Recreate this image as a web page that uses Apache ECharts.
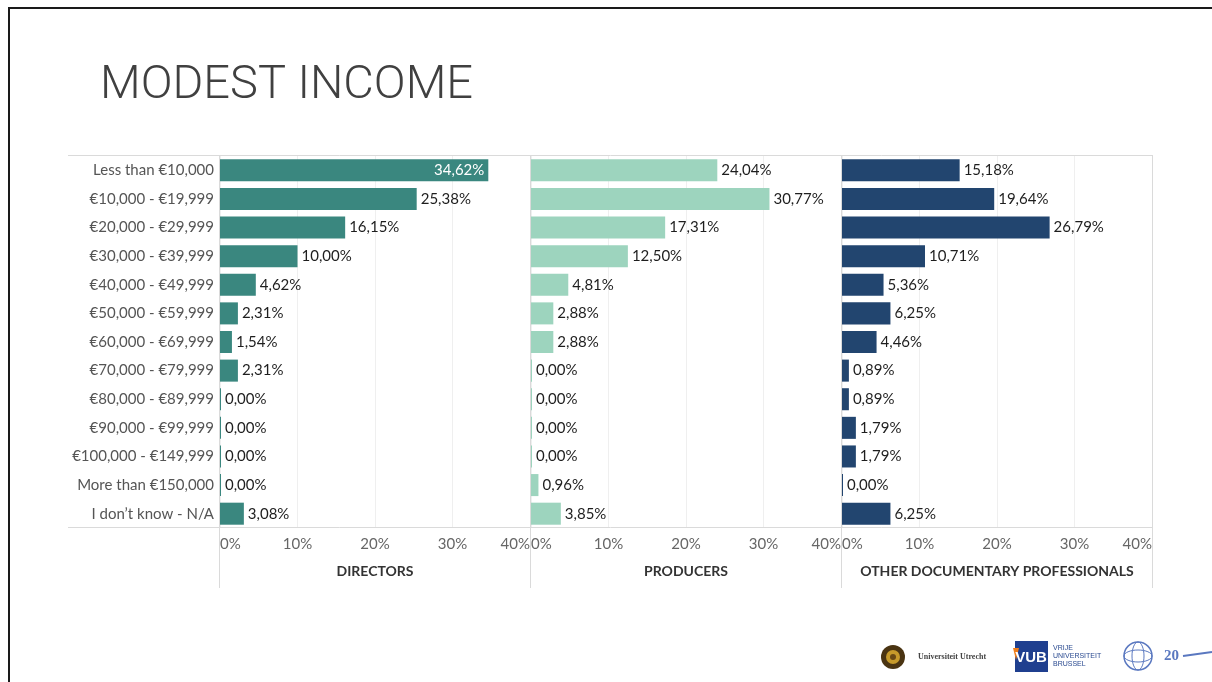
<!DOCTYPE html>
<html>
<head>
<meta charset="utf-8">
<title>Modest income</title>
<script src="https://cdn.jsdelivr.net/npm/echarts@6/dist/echarts.min.js"></script>
<style>
  html, body { margin: 0; padding: 0; background: #ffffff; }
  #chart { width: 1212px; height: 682px; }
</style>
</head>
<body>
<div id="chart"></div>
<script>
// Income brackets (rows, top to bottom)
const categories = [
  'Less than €10,000', '€10,000 - €19,999', '€20,000 - €29,999', '€30,000 - €39,999',
  '€40,000 - €49,999', '€50,000 - €59,999', '€60,000 - €69,999', '€70,000 - €79,999',
  '€80,000 - €89,999', '€90,000 - €99,999', '€100,000 - €149,999', 'More than €150,000',
  'I don’t know - N/A'
];

// Share of respondents per bracket (%)
const directors = [34.62, 25.38, 16.15, 10.00, 4.62, 2.31, 1.54, 2.31, 0.00, 0.00, 0.00, 0.00, 3.08];
const producers = [24.04, 30.77, 17.31, 12.50, 4.81, 2.88, 2.88, 0.00, 0.00, 0.00, 0.00, 0.96, 3.85];
const others    = [15.18, 19.64, 26.79, 10.71, 5.36, 6.25, 4.46, 0.89, 0.89, 1.79, 1.79, 0.00, 6.25];

const groupNames = ['DIRECTORS', 'PRODUCERS', 'OTHER DOCUMENTARY PROFESSIONALS'];
const groupColors = ['#3a877f', '#9dd4be', '#22456f'];
const groupValues = [directors, producers, others];

// Value axis ticks
const axisMin = 0;
const axisMax = 40;
const axisStep = 10;

// Panel layout
const panelLeft = [220, 531, 842];
const panelWidth = 311;
const plotTop = 156;
const plotHeight = 372;
const plotBottom = plotTop + plotHeight;
const frameBottom = 588;
const rowLabelLeft = 68;

const FONT = 'Lato, "Open Sans", sans-serif';
const fmt = v => v.toFixed(2).replace('.', ',') + '%';

const grids = [], xAxes = [], yAxes = [], series = [];

groupNames.forEach((name, i) => {
  grids.push({ left: panelLeft[i], top: plotTop, width: panelWidth - 1, height: plotHeight });
  xAxes.push({
    gridIndex: i, type: 'value', min: axisMin, max: axisMax, interval: axisStep,
    position: 'bottom',
    name: name, nameLocation: 'middle', nameGap: 36,
    nameTextStyle: { color: '#333', fontSize: 14, fontWeight: 'bold', fontFamily: FONT },
    axisLine: { show: false }, axisTick: { show: false },
    axisLabel: {
      formatter: '{value}%', color: '#666', fontSize: 15, fontFamily: FONT, margin: 9,
      alignMinLabel: 'left', alignMaxLabel: 'right'
    },
    splitLine: { show: true, lineStyle: { color: '#efefef', width: 1 } }
  });
  yAxes.push({
    gridIndex: i, type: 'category', data: categories, inverse: true,
    axisLine: { show: false }, axisTick: { show: false },
    axisLabel: {
      show: i === 0, color: '#555', fontSize: 15, fontFamily: FONT, margin: 6
    },
    splitLine: { show: false }
  });
  series.push({
    type: 'bar', xAxisIndex: i, yAxisIndex: i,
    barCategoryGap: '23%', barMinHeight: 1,
    itemStyle: { color: groupColors[i] },
    label: {
      show: true, position: 'right', distance: 4,
      color: '#1e1e1e', fontSize: 15, fontFamily: FONT,
      formatter: p => fmt(p.value)
    },
    // labels that would run past the panel edge go inside the bar
    data: groupValues[i].map(v => v / axisMax > 0.8
      ? { value: v, label: { position: 'insideRight', color: '#fff', distance: 4 } }
      : v)
  });
});

// Frame lines around the panels
const frame = [];
[plotTop, plotBottom].forEach(y => frame.push({
  type: 'line', z: 10,
  shape: { x1: rowLabelLeft, y1: y - 0.5, x2: panelLeft[2] + panelWidth, y2: y - 0.5 },
  style: { stroke: '#dadada', lineWidth: 1 }
}));
panelLeft.concat([panelLeft[2] + panelWidth]).forEach(x => frame.push({
  type: 'line', z: 10,
  shape: { x1: x - 0.5, y1: plotTop, x2: x - 0.5, y2: frameBottom },
  style: { stroke: '#dadada', lineWidth: 1 }
}));

// Slide border and title
const slide = [
  { type: 'polyline', z: 20,
    shape: { points: [[9, 682], [9, 8], [1212, 8]] },
    style: { stroke: '#1a1a1a', lineWidth: 2, fill: null } },
  { type: 'text', x: 100, y: 86,
    style: { text: 'MODEST INCOME', fill: '#404040', fontSize: 47, fontWeight: 300,
             textVerticalAlign: 'middle',
             fontFamily: 'Roboto, "Liberation Sans", sans-serif' } }
];

// Partner logos, bottom right
const logos = [
  { type: 'circle', shape: { cx: 893, cy: 657, r: 12 }, style: { fill: '#4a3412' } },
  { type: 'circle', shape: { cx: 893, cy: 657, r: 7 }, style: { fill: '#c79a2a' } },
  { type: 'circle', shape: { cx: 893, cy: 657, r: 3 }, style: { fill: '#6b4a14' } },
  { type: 'text', x: 918, y: 657,
    style: { text: 'Universiteit Utrecht', fill: '#444', fontSize: 8, fontFamily: '"Liberation Serif", serif',
             fontWeight: 'bold', textVerticalAlign: 'middle' } },
  { type: 'rect', shape: { x: 1015, y: 641, width: 33, height: 31 }, style: { fill: '#1f3f8f' } },
  { type: 'polygon', shape: { points: [[1013, 648], [1019, 648], [1016, 660]] }, style: { fill: '#f07d1a' } },
  { type: 'text', x: 1031, y: 658,
    style: { text: 'VUB', fill: '#fff', fontSize: 15, fontWeight: 'bold', fontFamily: '"Liberation Sans", sans-serif',
             textAlign: 'center', textVerticalAlign: 'middle' } },
  { type: 'text', x: 1053, y: 656,
    style: { text: 'VRIJE\nUNIVERSITEIT\nBRUSSEL', fill: '#2a4a90', fontSize: 7, lineHeight: 8,
             fontFamily: '"Liberation Sans", sans-serif', textVerticalAlign: 'middle' } },
  { type: 'circle', shape: { cx: 1138, cy: 656, r: 14 }, style: { fill: 'none', stroke: '#5a78c0', lineWidth: 1.5 } },
  { type: 'ellipse', shape: { cx: 1138, cy: 656, rx: 14, ry: 6 }, style: { fill: 'none', stroke: '#5a78c0', lineWidth: 1 } },
  { type: 'ellipse', shape: { cx: 1138, cy: 656, rx: 6, ry: 14 }, style: { fill: 'none', stroke: '#5a78c0', lineWidth: 1 } },
  { type: 'text', x: 1164, y: 656,
    style: { text: '20', fill: '#5a78c0', fontSize: 15, fontWeight: 'bold', fontFamily: '"Liberation Serif", serif',
             textVerticalAlign: 'middle' } },
  { type: 'line', shape: { x1: 1183, y1: 656, x2: 1212, y2: 652 }, style: { stroke: '#5a78c0', lineWidth: 2 } }
];

const chart = echarts.init(document.getElementById('chart'), null, { renderer: 'canvas' });
chart.setOption({
  backgroundColor: '#ffffff',
  animation: false,
  textStyle: { fontFamily: FONT },
  grid: grids,
  xAxis: xAxes,
  yAxis: yAxes,
  series: series,
  graphic: frame.concat(slide, logos)
});
</script>
</body>
</html>
